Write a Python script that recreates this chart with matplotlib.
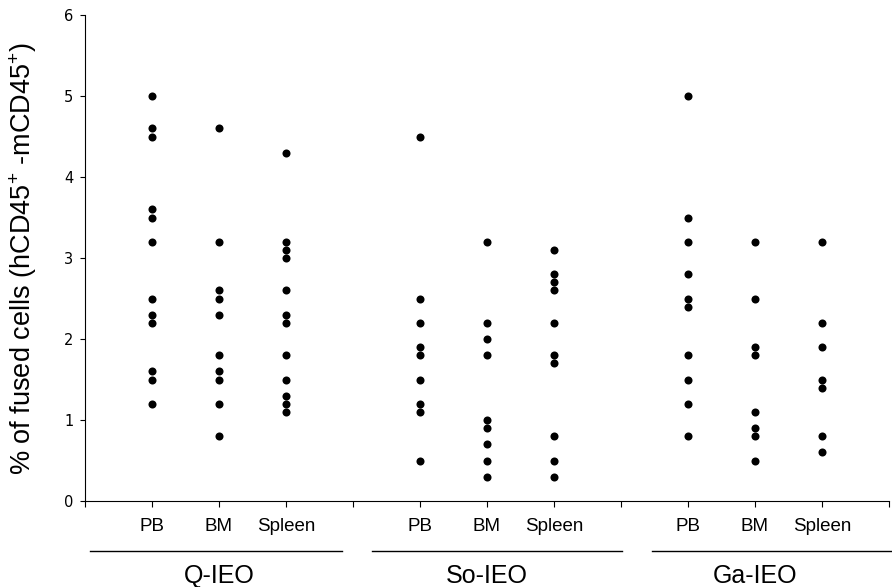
import numpy as np
import matplotlib
matplotlib.use("Agg")
import matplotlib.pyplot as plt

plt.rcParams.update({
    "font.family": ["Liberation Sans", "DejaVu Sans"],
    "mathtext.fontset": "custom",
    "mathtext.rm": "Liberation Sans",
    "mathtext.it": "Liberation Sans",
    "mathtext.default": "regular",
})

groups = ["Q-IEO", "So-IEO", "Ga-IEO"]
tissues = ["PB", "BM", "Spleen"]

q_pb = [5.0, 4.6, 4.5, 3.6, 3.5, 3.2, 2.5, 2.3, 2.2, 1.6, 1.5, 1.2]
q_bm = [4.6, 3.2, 2.6, 2.5, 2.3, 1.8, 1.6, 1.5, 1.2, 0.8]
q_spleen = [4.3, 3.2, 3.1, 3.0, 2.6, 2.3, 2.2, 1.8, 1.5, 1.3, 1.2, 1.1]

so_pb = [4.5, 2.5, 2.2, 1.9, 1.8, 1.5, 1.2, 1.1, 0.5]
so_bm = [3.2, 2.2, 2.0, 1.8, 1.0, 0.9, 0.7, 0.5, 0.3]
so_spleen = [3.1, 2.8, 2.7, 2.6, 2.2, 1.8, 1.7, 0.8, 0.5, 0.3]

ga_pb = [5.0, 3.5, 3.2, 2.8, 2.5, 2.4, 1.8, 1.5, 1.2, 0.8]
ga_bm = [3.2, 2.5, 1.9, 1.8, 1.1, 0.9, 0.8, 0.5]
ga_spleen = [3.2, 2.2, 1.9, 1.5, 1.4, 0.8, 0.6]

series = [
    [q_pb, q_bm, q_spleen],
    [so_pb, so_bm, so_spleen],
    [ga_pb, ga_bm, ga_spleen],
]

fig = plt.figure(figsize=(8.92, 5.87), dpi=100)
ax = fig.add_axes([85 / 892, 86 / 587, 804 / 892, 486 / 587])

# each group takes 4 slots on the x axis: 3 tissues + a gap
tick_labels = [""] * 13
for g, cols in enumerate(series):
    for t, vals in enumerate(cols):
        pos = 4 * g + t + 1
        ax.plot(np.full(len(vals), pos), vals, "o", color="black",
                ms=5.8, mew=0, clip_on=False)
        tick_labels[pos] = tissues[t]

ax.set_xlim(0, 12)
ax.set_ylim(0, 6)
ax.set_xticks(range(13))
ax.set_xticklabels(tick_labels, fontsize=13.5)
ax.set_yticks(range(7))
ax.set_yticklabels([str(i) for i in range(7)], fontsize=10.5,
                   family="DejaVu Sans")

ax.tick_params(axis="x", direction="out", length=4.5, width=0.8, pad=8)
ax.tick_params(axis="y", direction="out", length=3.5, width=0.8, pad=5)

for side in ["top", "right"]:
    ax.spines[side].set_visible(False)
for side in ["left", "bottom"]:
    ax.spines[side].set_linewidth(0.8)

ax.set_ylabel("% of fused cells (hCD45$^{+}$ -mCD45$^{+}$)", fontsize=19.5,
              labelpad=18)

# group brackets under the tissue labels
spans = [(0.08, 3.84), (4.28, 8.01), (8.46, 12.3)]
for (x0, x1), name, cx in zip(spans, groups, [2, 6, 10]):
    ax.plot([x0, x1], [-0.62, -0.62], color="black", lw=1.0, clip_on=False)
    ax.text(cx, -0.92, name, ha="center", va="center", fontsize=18)

fig.savefig("out.png", dpi=100)
